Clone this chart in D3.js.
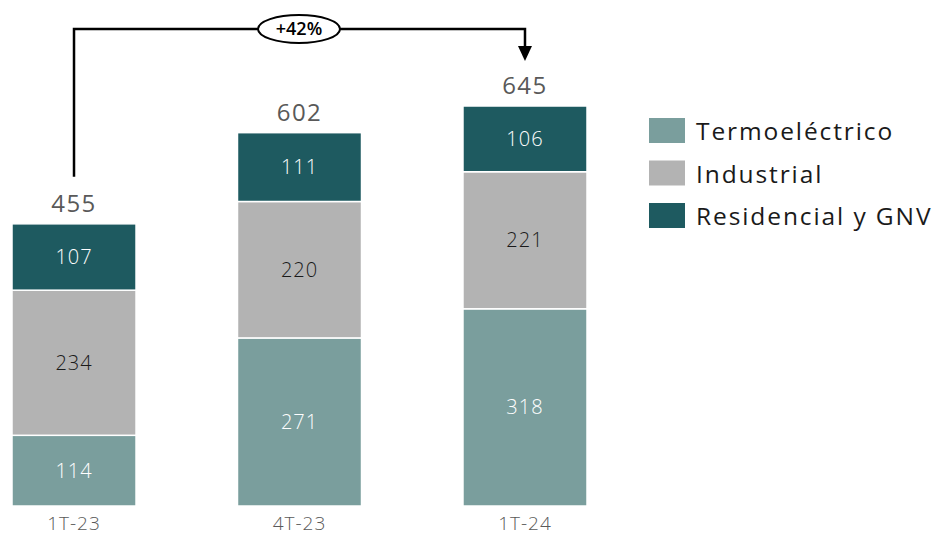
<!DOCTYPE html>
<html><head><meta charset="utf-8">
<script src="https://cdn.jsdelivr.net/npm/d3@7/dist/d3.min.js"></script>
<style>body{margin:0;background:#fff}svg{display:block}</style>
</head><body>
<svg id="c" width="938" height="537"></svg>
<script>
const categories = ["1T-23", "4T-23", "1T-24"];
const seriesNames = ["Termoeléctrico", "Industrial", "Residencial y GNV"];
const termo = [114, 271, 318];
const industrial = [234, 220, 221];
const residencial = [107, 111, 106];
const totals = [455, 602, 645];
const growthLabel = "+42%";
const colors = ["#7A9E9D", "#B3B3B3", "#1E5A60"];
const labelColors = ["#ffffff", "#1a1a1a", "#ffffff"];

const svg = d3.select("#c");
const font = "'Open Sans', 'Noto Sans', sans-serif";
const thin = "'Open Sans', sans-serif";
const x = d3.scaleBand().domain(categories).range([12, 587]).paddingInner(0.45).paddingOuter(0);
const y = d3.scaleLinear().domain([0, 645]).range([506, 106]);

const rows = categories.map((c, i) => ({cat: c, v: [termo[i], industrial[i], residencial[i]]}));
const stack = d3.stack().keys([0,1,2]).value((d,k) => d.v[k])(rows);

stack.forEach((layer, k) => {
  const g = svg.append("g");
  g.selectAll("rect").data(layer).join("rect")
    .attr("x", d => x(d.data.cat)).attr("width", x.bandwidth())
    .attr("y", d => y(d[1])).attr("height", d => y(d[0]) - y(d[1]))
    .attr("fill", colors[k]).attr("stroke", "#fff").attr("stroke-width", 1.5);
  g.selectAll("text").data(layer).join("text")
    .attr("x", d => x(d.data.cat) + x.bandwidth()/2)
    .attr("y", d => (y(d[0]) + y(d[1]))/2 + 7)
    .attr("text-anchor", "middle").attr("font-family", thin).attr("font-weight", 300).attr("font-size", 20)
    .attr("letter-spacing", 1)
    .attr("fill", labelColors[k]).text(d => d.data.v[k]);
});

svg.selectAll(".tot").data(categories).join("text")
  .attr("x", d => x(d) + x.bandwidth()/2).attr("y", (d,i) => y(totals[i]) - 12)
  .attr("text-anchor", "middle").attr("font-family", font).attr("font-size", 24)
  .attr("letter-spacing", 1.5)
  .attr("fill", "#595959").text((d,i) => totals[i]);

svg.selectAll(".cat").data(categories).join("text")
  .attr("x", d => x(d) + x.bandwidth()/2).attr("y", 530)
  .attr("text-anchor", "middle").attr("font-family", thin).attr("font-weight", 300).attr("font-size", 19)
  .attr("letter-spacing", 1)
  .attr("fill", "#595959").text(d => d);

// growth arrow
const x0 = x(categories[0]) + x.bandwidth()/2, x2 = x(categories[2]) + x.bandwidth()/2;
const yTop = 29;
svg.append("path").attr("d", `M${x0},${y(totals[0]) - 47} V${yTop} H${x2} V48`)
  .attr("fill", "none").attr("stroke", "#000").attr("stroke-width", 2.5);
svg.append("path").attr("d", `M${x2-7},46 L${x2+7},46 L${x2},61 Z`).attr("fill", "#000");
const ex = 299;
svg.append("ellipse").attr("cx", ex).attr("cy", yTop).attr("rx", 41).attr("ry", 14)
  .attr("fill", "#fff").attr("stroke", "#000").attr("stroke-width", 2);
svg.append("text").attr("x", ex).attr("y", yTop + 6).attr("text-anchor", "middle")
  .attr("font-family", font).attr("font-size", 18).attr("font-weight", 600).attr("fill", "#000").text(growthLabel);

// legend
const lg = svg.append("g");
seriesNames.forEach((n, i) => {
  lg.append("rect").attr("x", 649).attr("y", 118 + i*42.5).attr("width", 36).attr("height", 25).attr("fill", colors[i]);
  lg.append("text").attr("x", 696).attr("y", 140 + i*42.5).attr("font-family", font).attr("font-size", 24.5)
    .attr("letter-spacing", 1.9)
    .attr("fill", "#1a1a1a").text(n);
});
</script>
</body></html>
